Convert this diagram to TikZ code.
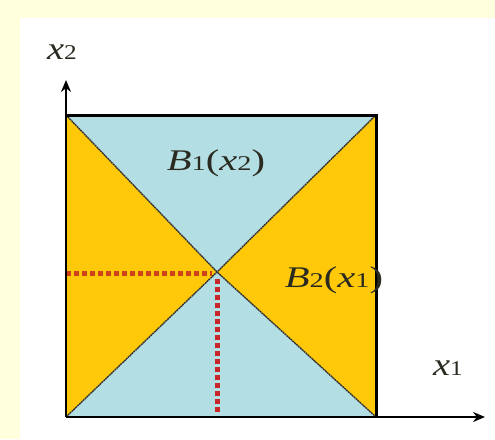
\documentclass[tikz,border=0pt]{standalone}
\usepackage{fontspec}
\setmainfont{Liberation Serif}
\usetikzlibrary{arrows.meta}
\definecolor{bgyellow}{HTML}{FFFFDE}
\definecolor{regblue}{HTML}{B3DEE3}
\definecolor{regorange}{HTML}{FFC90A}
\definecolor{dotred}{HTML}{C8282A}
\definecolor{dotorange}{HTML}{D0401A}
\definecolor{txt}{HTML}{2A2A20}
\tikzset{
  axis/.style={line width=2pt, -{Stealth[length=12pt,width=10pt]}},
  frame/.style={line width=3pt},
  diag/.style={line width=1.4pt, black!80, dash pattern=on 2pt off 0.6pt},
  guide/.style={line width=5pt, dash pattern=on 4.5pt off 3.5pt},
  lbl/.style={font=\fontsize{30}{34}\selectfont, inner sep=0pt, xscale=1.35, text=txt},
  axlbl/.style={font=\fontsize{32}{36}\selectfont, inner sep=0pt, xscale=1.2, text=txt}
}
\newcommand{\smalldig}[1]{{\fontsize{21}{24}\selectfont #1}}
\begin{document}
\begin{tikzpicture}[x=1pt,y=-1pt]
\useasboundingbox (0,0) rectangle (495,439);
\fill[bgyellow] (0,0) rectangle (495,439);
\fill[white] (20,18) rectangle (495,439);
\coordinate (TL) at (66,115);
\coordinate (TR) at (376,115);
\coordinate (BR) at (376,417);
\coordinate (BL) at (66,417);
\coordinate (C) at (217,272);
\coordinate (YT) at (66,80);
\coordinate (XR) at (485,417);
\coordinate (HL) at (66,273);
\coordinate (HC) at (212,273);
\coordinate (VT) at (217,279);
\coordinate (VB) at (217,414);
% regions
\fill[regblue] (TL) -- (TR) -- (C) -- cycle;
\fill[regblue] (BL) -- (BR) -- (C) -- cycle;
\fill[regorange] (TL) -- (BL) -- (C) -- cycle;
\fill[regorange] (TR) -- (BR) -- (C) -- cycle;
\draw[diag] (TL) -- (C) -- (BR);
\draw[diag] (BL) -- (C) -- (TR);
% dotted guides
\draw[guide, dotorange] (HL) -- (HC);
\draw[guide, dotred] (VT) -- (VB);
% frame
\draw[frame] (TL) -- (TR) -- (BR);
\draw[line width=2pt] (BL) -- (BR);
\draw[axis] (BL) -- (YT);
\draw[axis] (BR) -- (XR);
% labels
\node[axlbl] (lx2) at (62,52) {\textit{x}\smalldig{2}};
\node[axlbl] (lx1) at (448,368) {\textit{x}\smalldig{1}};
\node[lbl] (lb1) at (216,163) {\textit{B}\smalldig{1}(\textit{x}\smalldig{2})};
\node[lbl] (lb2) at (334,280) {\textit{B}\smalldig{2}(\textit{x}\smalldig{1})};
\end{tikzpicture}
\end{document}
